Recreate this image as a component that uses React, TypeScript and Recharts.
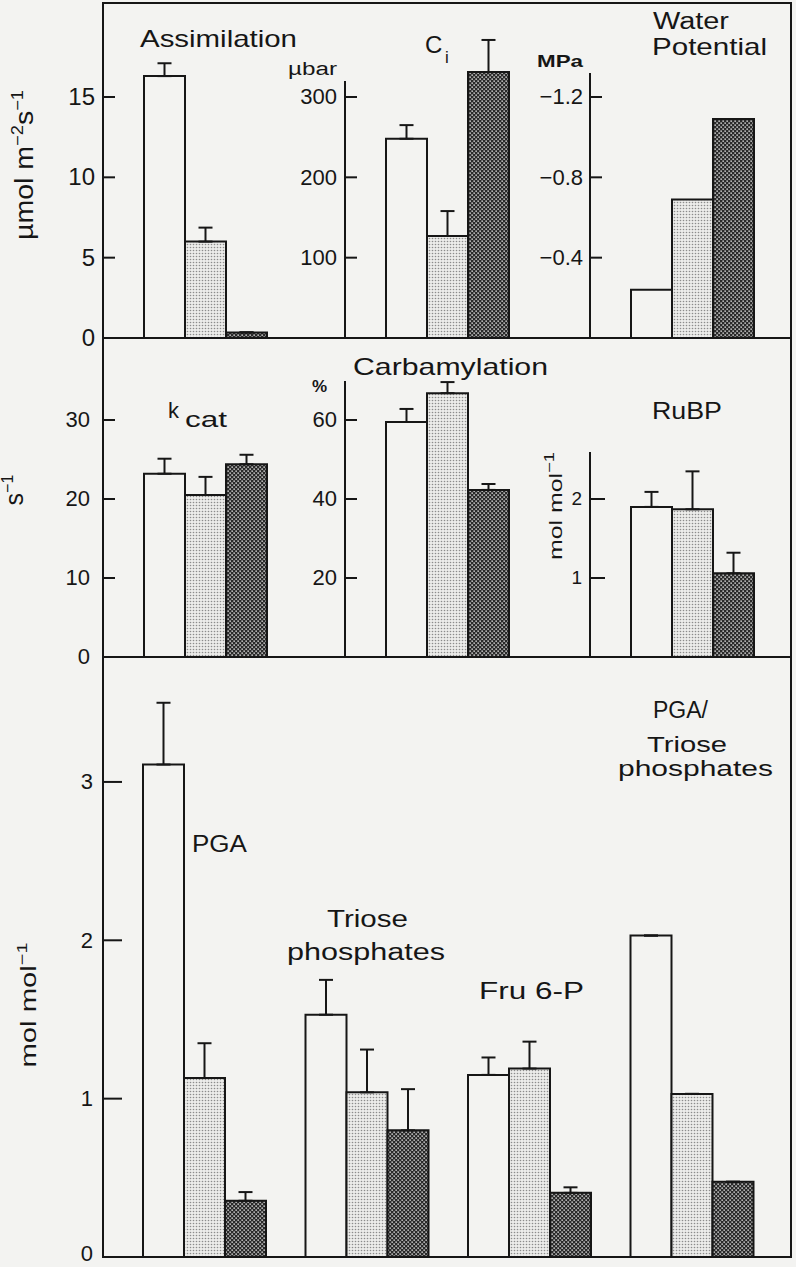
import React from 'react';
import { BarChart, Bar, XAxis, YAxis, ErrorBar } from 'recharts';

const FONT = '"Liberation Sans", Arial, Helvetica, sans-serif';
const INK = '#161616';
const PAPER = '#f3f3f1';

// treatments (white, stippled, dark)
const seriesKeys = ['control', 'moderate', 'severe'];

// Row 1
const assimilationValues = [16.3, 6.0, 0.35];
const assimilationErrors = [0.8, 0.87, 0];
const ciValues = [248, 127, 331];
const ciErrors = [17, 31, 40];
const waterPotentialValues = [-0.24, -0.69, -1.09];

// Row 2
const kcatValues = [23.2, 20.5, 24.4];
const kcatErrors = [1.9, 2.3, 1.2];
const carbamylationValues = [59.5, 66.8, 42.3];
const carbamylationErrors = [3.3, 2.8, 1.5];
const rubpValues = [1.9, 1.87, 1.06];
const rubpErrors = [0.19, 0.48, 0.26];

// Row 3
const metaboliteCategories = ['PGA', 'Triose phosphates', 'Fru 6-P', 'PGA/Triose phosphates'];
const metaboliteControl = [3.11, 1.53, 1.15, 2.03];
const metaboliteControlErr = [0.39, 0.22, 0.11, 0];
const metaboliteModerate = [1.13, 1.04, 1.19, 1.03];
const metaboliteModerateErr = [0.22, 0.27, 0.17, 0];
const metaboliteSevere = [0.355, 0.8, 0.405, 0.475];
const metaboliteSevereErr = [0.055, 0.26, 0.035, 0];

// tick labels
const assimilationTicks = [0, 5, 10, 15];
const ciTicks = [100, 200, 300];
const waterPotentialTicks = [-0.4, -0.8, -1.2];
const kcatTicks = [0, 10, 20, 30];
const carbamylationTicks = [20, 40, 60];
const rubpTicks = [1, 2];
const metaboliteTicks = [0, 1, 2, 3];

const FILLS: Record<string, string> = {
  control: PAPER,
  moderate: 'url(#stipple)',
  severe: 'url(#checker)',
};

function singleRow(name: string, values: number[], errors?: number[]) {
  const row: any = { name };
  seriesKeys.forEach((k, i) => {
    row[k] = values[i];
    row[k + 'Err'] = [0, errors ? errors[i] : 0];
  });
  return [row];
}

const metaboliteData = metaboliteCategories.map((name, i) => ({
  name,
  control: metaboliteControl[i],
  controlErr: [0, metaboliteControlErr[i]],
  moderate: metaboliteModerate[i],
  moderateErr: [0, metaboliteModerateErr[i]],
  severe: metaboliteSevere[i],
  severeErr: [0, metaboliteSevereErr[i]],
}));

type PanelProps = {
  axisX: number;
  top: number;
  plotWidth: number;
  height: number;
  marginTop: number;
  marginBottom: number;
  data: any[];
  domain: [number, number];
  ticks: number[];
  reversed?: boolean;
  hideTop?: number;
  tickFont: number;
  tickLen: number;
  tickGap: number;
  fmt?: (v: number) => string;
  barSize: number;
  padding?: { left: number; right: number };
  showErr: boolean;
  zeroDy?: string;
};

const YW = 100;

function Panel(p: PanelProps) {
  const tick = (props: any) => {
    const { x, y, payload } = props;
    const label = p.fmt ? p.fmt(payload.value) : String(payload.value);
    const dy = payload.value === 0 && p.zeroDy ? p.zeroDy : '0.34em';
    return (
      <g>
        <line x1={x} x2={x + p.tickLen} y1={y} y2={y} stroke={INK} strokeWidth={2} />
        <text
          x={x - p.tickGap}
          y={y}
          dy={dy}
          textAnchor="end"
          fontSize={p.tickFont}
          fontFamily={FONT}
          fill={INK}
        >
          {label}
        </text>
      </g>
    );
  };
  const axisLine: any = { stroke: INK, strokeWidth: 2 };
  if (p.hideTop) axisLine.strokeDasharray = `0 ${p.hideTop} 3000`;
  return (
    <div style={{ position: 'absolute', left: p.axisX - YW, top: p.top }}>
      <BarChart
        width={YW + p.plotWidth}
        height={p.height}
        data={p.data}
        margin={{ top: p.marginTop, right: 0, bottom: p.marginBottom, left: 0 }}
        barGap={0}
        barSize={p.barSize}
      >
        <XAxis dataKey="name" hide padding={p.padding || { left: 0, right: 0 }} />
        <YAxis
          type="number"
          width={YW}
          domain={p.domain}
          ticks={p.ticks}
          interval={0}
          reversed={p.reversed}
          tickSize={0}
          tickMargin={0}
          tickLine={false}
          axisLine={axisLine}
          tick={tick}
        />
        {seriesKeys.map((k) => (
          <Bar
            key={k}
            dataKey={k}
            fill={FILLS[k]}
            stroke={INK}
            strokeWidth={2}
            isAnimationActive={false}
          >
            {p.showErr ? (
              <ErrorBar dataKey={k + 'Err'} width={7} stroke={INK} strokeWidth={2} direction="y" />
            ) : null}
          </Bar>
        ))}
      </BarChart>
    </div>
  );
}

const T = (props: any) => (
  <text fontFamily={FONT} fill={INK} lengthAdjust="spacingAndGlyphs" {...props} />
);

export default function App() {
  const row1 = { top: 0, height: 358, marginTop: 3, marginBottom: 20 };
  const row2 = { top: 318, height: 359, marginTop: 20, marginBottom: 20 };
  const row3 = { top: 637, height: 630, marginTop: 20, marginBottom: 10 };
  const neg = (v: number) => '\u2212' + Math.abs(v).toFixed(1);
  return (
    <div
      style={{
        position: 'absolute',
        left: 0,
        top: 0,
        width: 796,
        height: 1267,
        overflow: 'hidden',
        background: PAPER,
      }}
    >
      <svg width={0} height={0} style={{ position: 'absolute' }}>
        <defs>
          <pattern id="stipple" width="3" height="3" patternUnits="userSpaceOnUse">
            <rect width="3" height="3" fill="#ececea" />
            <circle cx="1.5" cy="1.5" r="0.8" fill="#8c8c8c" />
          </pattern>
          <pattern id="checker" width="4" height="4" patternUnits="userSpaceOnUse">
            <rect width="4" height="4" fill="#2a2a2a" />
            <rect x="0.4" y="0.4" width="1.5" height="1.5" fill="#cfcfcf" />
            <rect x="2.4" y="2.4" width="1.5" height="1.5" fill="#cfcfcf" />
          </pattern>
        </defs>
      </svg>

      {/* Row 1 */}
      <Panel axisX={103} plotWidth={204} {...row1} data={singleRow('Assimilation', assimilationValues, assimilationErrors)}
        domain={[0, 20.85]} ticks={assimilationTicks} tickFont={24} tickLen={12} tickGap={8} barSize={41} showErr />
      <Panel axisX={345} plotWidth={205} {...row1} data={singleRow('Ci', ciValues, ciErrors)}
        domain={[0, 417]} ticks={ciTicks} hideTop={78} tickFont={22} tickLen={12} tickGap={8} barSize={41} showErr />
      <Panel axisX={590} plotWidth={205} {...row1} data={singleRow('Water Potential', waterPotentialValues)}
        domain={[-1.668, 0]} reversed ticks={waterPotentialTicks} hideTop={70} tickFont={22} tickLen={12} tickGap={7}
        fmt={neg} barSize={41} showErr={false} />

      {/* Row 2 */}
      <Panel axisX={103} plotWidth={204} {...row2} data={singleRow('kcat', kcatValues, kcatErrors)}
        domain={[0, 40.38]} ticks={kcatTicks} tickFont={22} tickLen={12} tickGap={13} barSize={41} showErr />
      <Panel axisX={345} plotWidth={205} {...row2} data={singleRow('Carbamylation', carbamylationValues, carbamylationErrors)}
        domain={[0, 80.76]} ticks={carbamylationTicks} hideTop={43} tickFont={22} tickLen={12} tickGap={8} barSize={41} showErr />
      <Panel axisX={590} plotWidth={205} {...row2} data={singleRow('RuBP', rubpValues, rubpErrors)}
        domain={[0, 4.038]} ticks={rubpTicks} hideTop={114} tickFont={19} tickLen={15} tickGap={8} barSize={41} showErr />

      {/* Row 3 */}
      <Panel axisX={103} plotWidth={688} {...row3} data={metaboliteData}
        domain={[0, 3.789]} ticks={metaboliteTicks} tickFont={22} tickLen={19} tickGap={10} barSize={41}
        padding={{ left: 20, right: 18 }} showErr zeroDy="0.16em" />

      <svg width={796} height={1267} style={{ position: 'absolute', left: 0, top: 0, pointerEvents: 'none' }}>
        {/* frame */}
        <rect x={103} y={3} width={688} height={1254} fill="none" stroke={INK} strokeWidth={2} />
        <line x1={103} x2={791} y1={338} y2={338} stroke={INK} strokeWidth={2} />
        <line x1={103} x2={791} y1={657} y2={657} stroke={INK} strokeWidth={2} />

        {/* row 1 titles */}
        <T x={140} y={47} fontSize={24} textLength={157}>Assimilation</T>
        <T x={425} y={53} fontSize={24}>C</T>
        <T x={445} y={63} fontSize={17}>i</T>
        <T x={288} y={75} fontSize={18} textLength={49}>µbar</T>
        <T x={537} y={67} fontSize={17} fontWeight="bold" textLength={46}>MPa</T>
        <T x={653} y={29} fontSize={23} textLength={76}>Water</T>
        <T x={652} y={55} fontSize={24} textLength={115}>Potential</T>

        {/* row 2 titles */}
        <T x={168} y={418} fontSize={22}>k</T>
        <T x={185} y={427} fontSize={22} textLength={42}>cat</T>
        <T x={353} y={375} fontSize={24} textLength={195}>Carbamylation</T>
        <T x={312} y={392} fontSize={17} fontWeight="bold">%</T>
        <T x={652} y={419} fontSize={24} textLength={70}>RuBP</T>

        {/* row 3 titles */}
        <T x={192} y={852} fontSize={23} textLength={55}>PGA</T>
        <T x={327} y={927} fontSize={23} textLength={81}>Triose</T>
        <T x={287} y={960} fontSize={23} textLength={158}>phosphates</T>
        <T x={479} y={999} fontSize={23} textLength={105}>Fru 6-P</T>
        <T x={653} y={718} fontSize={23} textLength={55}>PGA/</T>
        <T x={647} y={752} fontSize={22} textLength={80}>Triose</T>
        <T x={618} y={776} fontSize={22} textLength={155}>phosphates</T>

        {/* y-axis unit labels */}
        <text x={33} y={165} transform="rotate(-90 33 165)" textAnchor="middle" fontFamily={FONT} fill={INK}
          fontSize={25} textLength={150} lengthAdjust="spacingAndGlyphs">
          µmol m<tspan fontSize={16} dy={-10}>−2</tspan>
          <tspan dy={10}>s</tspan>
          <tspan fontSize={16} dy={-10}>−1</tspan>
        </text>
        <text x={23} y={490} transform="rotate(-90 23 490)" textAnchor="middle" fontFamily={FONT} fill={INK}
          fontSize={25}>
          s<tspan fontSize={16} dy={-10}>−1</tspan>
        </text>
        <text x={562} y={506} transform="rotate(-90 562 506)" textAnchor="middle" fontFamily={FONT} fill={INK}
          fontSize={19} textLength={108} lengthAdjust="spacingAndGlyphs">
          mol mol<tspan fontSize={14} dy={-8}>−1</tspan>
        </text>
        <text x={36} y={1005} transform="rotate(-90 36 1005)" textAnchor="middle" fontFamily={FONT} fill={INK}
          fontSize={22} textLength={125} lengthAdjust="spacingAndGlyphs">
          mol mol<tspan fontSize={15} dy={-9}>−1</tspan>
        </text>
      </svg>
    </div>
  );
}
